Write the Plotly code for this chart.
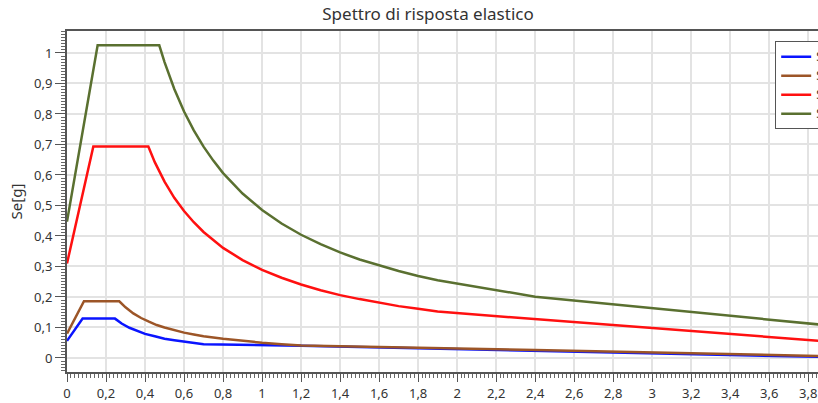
import plotly.graph_objects as go

# ---- data ----
names = ["SLO", "SLD", "SLV", "SLC"]
colors = ["#0a14ff", "#9c5527", "#ff1010", "#5a7030"]

T_slo = [0, 0.08, 0.246, 0.28, 0.32, 0.36, 0.40, 0.45, 0.50, 0.55, 0.60, 0.65, 0.70, 1.2, 2.4, 3.9]
Se_slo = [0.056, 0.129, 0.129, 0.113, 0.099, 0.088, 0.079, 0.071, 0.063, 0.058, 0.053, 0.049, 0.045, 0.040, 0.024, 0.003]

T_sld = [0, 0.087, 0.268, 0.30, 0.34, 0.38, 0.42, 0.46, 0.50, 0.55, 0.60, 0.65, 0.70, 0.80, 0.90, 1.0, 1.1, 1.2, 2.4, 3.9]
Se_sld = [0.08, 0.186, 0.186, 0.166, 0.146, 0.131, 0.119, 0.108, 0.100, 0.091, 0.083, 0.077, 0.071, 0.063, 0.056, 0.050, 0.045, 0.041, 0.026, 0.006]

T_slv = [0, 0.135, 0.417, 0.45, 0.5, 0.55, 0.6, 0.65, 0.7, 0.8, 0.9, 1.0, 1.1, 1.2, 1.3, 1.4, 1.5, 1.6, 1.7, 1.8, 1.9, 3.9]
Se_slv = [0.31, 0.693, 0.693, 0.642, 0.578, 0.525, 0.482, 0.445, 0.413, 0.361, 0.321, 0.289, 0.263, 0.241, 0.222, 0.206, 0.193, 0.181, 0.170, 0.161, 0.152, 0.054]

T_slc = [0, 0.157, 0.473, 0.5, 0.55, 0.6, 0.65, 0.7, 0.75, 0.8, 0.9, 1.0, 1.1, 1.2, 1.3, 1.4, 1.5, 1.6, 1.7, 1.8, 1.9, 2.4, 3.9]
Se_slc = [0.447, 1.025, 1.025, 0.970, 0.882, 0.808, 0.746, 0.693, 0.647, 0.606, 0.539, 0.485, 0.441, 0.404, 0.373, 0.346, 0.323, 0.303, 0.285, 0.269, 0.255, 0.201, 0.107]

series_T = [T_slo, T_sld, T_slv, T_slc]
series_Se = [Se_slo, Se_sld, Se_slv, Se_slc]

title_text = "Spettro di risposta elastico"
y_title = "Se[g]"

fig = go.Figure()
for n, c, t, s in zip(names, colors, series_T, series_Se):
    fig.add_trace(go.Scatter(x=t, y=s, mode="lines", name=n,
                             line=dict(color=c, width=2.5)))

font_family = "Noto Sans, Open Sans, sans-serif"
fig.update_layout(
    width=818, height=403,
    margin=dict(l=67, r=0, t=31, b=31, autoexpand=False),
    paper_bgcolor="white", plot_bgcolor="white",
    separators=",.",
    font=dict(family=font_family, size=13, color="#333333"),
    title=dict(text=title_text, x=428 / 818, xref="container", xanchor="center",
               y=1 - 14 / 403, yref="container", yanchor="middle",
               font=dict(size=17, color="#333333")),
    showlegend=True,
    legend=dict(x=0.943, xanchor="left", y=0.97, yanchor="top",
                bgcolor="white", bordercolor="#555555", borderwidth=1,
                font=dict(size=12, color="#333333"), tracegroupgap=0),
)
fig.update_xaxes(
    automargin=False,
    range=[0, 3.85], dtick=0.2, tick0=0,
    showgrid=True, gridcolor="#e3e3e3", gridwidth=1.5,
    showline=True, linecolor="#555555", linewidth=2, mirror=True,
    ticks="outside", ticklen=8, tickcolor="#555555", tickwidth=1.2,
    minor=dict(dtick=0.02, ticks="outside", ticklen=4, tickcolor="#666666", tickwidth=1, showgrid=False),
    zeroline=False, tickfont=dict(size=13, color="#333333"),
)
fig.update_yaxes(
    automargin=False,
    range=[-0.046, 1.072], dtick=0.1, tick0=0,
    showgrid=True, gridcolor="#e3e3e3", gridwidth=1.5,
    showline=True, linecolor="#555555", linewidth=2, mirror=True,
    ticks="outside", ticklen=10, tickcolor="#555555", tickwidth=1.2,
    minor=dict(dtick=0.01, ticks="outside", ticklen=4, tickcolor="#666666", tickwidth=1, showgrid=False),
    zeroline=False, tickfont=dict(size=13, color="#333333"),
    title=dict(text=y_title, font=dict(size=15, color="#333333"), standoff=8),
)

fig.write_html("out.html", config={"displayModeBar": False},
               post_script="document.body.style.margin='0';document.body.style.overflow='hidden';")
